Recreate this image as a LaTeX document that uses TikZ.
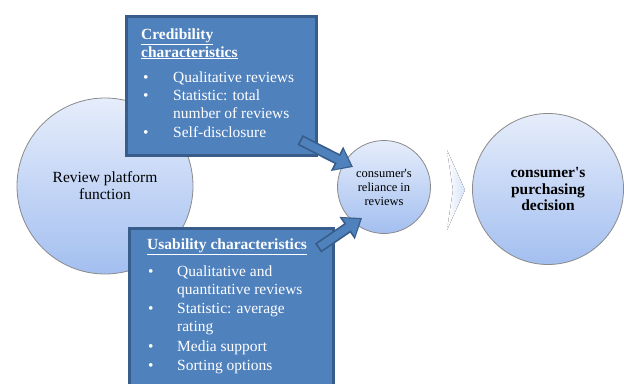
\documentclass[tikz,border=0pt]{standalone}
\usepackage{fontspec}
\setmainfont{Liberation Serif}
\usetikzlibrary{arrows.meta}
\definecolor{boxblue}{HTML}{4F81BD}
\definecolor{boxedge}{HTML}{385D8A}
\definecolor{bubbletop}{HTML}{E6EDFB}
\definecolor{bubblebottom}{HTML}{A3BFF0}
\definecolor{bubbleedge}{HTML}{8A8A8A}
\definecolor{chevron}{HTML}{D6E2F6}
\begin{document}
\begin{tikzpicture}[x=1pt,y=-1pt,
  bubble/.style={circle,draw=bubbleedge,line width=0.8pt,top color=bubbletop,bottom color=bubblebottom,inner sep=0pt,align=center},
  card/.style={draw=boxedge,line width=2.5pt,fill=boxblue,inner sep=0pt,anchor=north west},
  cardtext/.style={text=white,inner sep=0pt,anchor=base west,font=\fontsize{15.5}{18}\selectfont},
  blockout/.style={boxedge,line width=11pt,-{Triangle[width=26pt,length=18pt]}},
  blockin/.style={boxblue,line width=7.5pt,shorten <=1.8pt,shorten >=2.2pt,-{Triangle[width=21pt,length=14pt]}}]
\useasboundingbox (0,0) rectangle (624,383);
% circles
\node[bubble,minimum size=176pt,font=\fontsize{15.5}{17}\selectfont] (platform) at (105,186) {Review platform\\function};
\node[bubble,minimum size=93pt,font=\fontsize{12.5}{14}\selectfont] (reliance) at (384,187) {consumer\textquotesingle s\\reliance in\\reviews};
\node[bubble,minimum size=151pt,font=\fontsize{15.5}{16.5}\selectfont\bfseries] (decision) at (548,189) {consumer\textquotesingle s\\purchasing\\decision};
\fill[left color=white,right color=chevron] (447,150) -- (465,190) -- (447,230) -- (453,190) -- cycle;
% credibility box
\node[card,minimum width=190pt,minimum height=139pt] (cred) at (125,15) {};
\node[cardtext] (credhead1) at (141,39) {\bfseries\underline{Credibility}};
\node[cardtext] (credhead2) at (141,57) {\bfseries\underline{characteristics}};
\node[cardtext] (credbul1) at (143,82) {\textbullet};
\node[cardtext] (credbul2) at (143,100) {\textbullet};
\node[cardtext] (credbul3) at (143,137) {\textbullet};
\node[cardtext] (credline1) at (173,82) {Qualitative reviews};
\node[cardtext] (credline2) at (173,100) {Statistic: total};
\node[cardtext] (credline3) at (173,118) {number of reviews};
\node[cardtext] (credline4) at (173,137) {Self-disclosure};
% usability box
\node[card,minimum width=204pt,minimum height=170pt] (usab) at (128,227) {};
\node[cardtext] (usabhead) at (147,249) {\bfseries\underline{Usability characteristics}};
\node[cardtext] (usabbul1) at (148,276) {\textbullet};
\node[cardtext] (usabbul2) at (148,313) {\textbullet};
\node[cardtext] (usabbul3) at (148,351) {\textbullet};
\node[cardtext] (usabbul4) at (148,370) {\textbullet};
\node[cardtext] (usabline1) at (177,276) {Qualitative and};
\node[cardtext] (usabline2) at (177,294) {quantitative reviews};
\node[cardtext] (usabline3) at (177,313) {Statistic: average};
\node[cardtext] (usabline4) at (177,331) {rating};
\node[cardtext] (usabline5) at (177,351) {Media support};
\node[cardtext] (usabline6) at (177,370) {Sorting options};
% arrows
\coordinate (credtail) at (300,140);
\coordinate (credtip) at (353,167);
\coordinate (usabtail) at (318,248);
\coordinate (usabtip) at (362,218);
\draw[blockout] (credtail) -- (credtip);
\draw[blockin] (credtail) -- (credtip);
\draw[blockout] (usabtail) -- (usabtip);
\draw[blockin] (usabtail) -- (usabtip);
\end{tikzpicture}
\end{document}
